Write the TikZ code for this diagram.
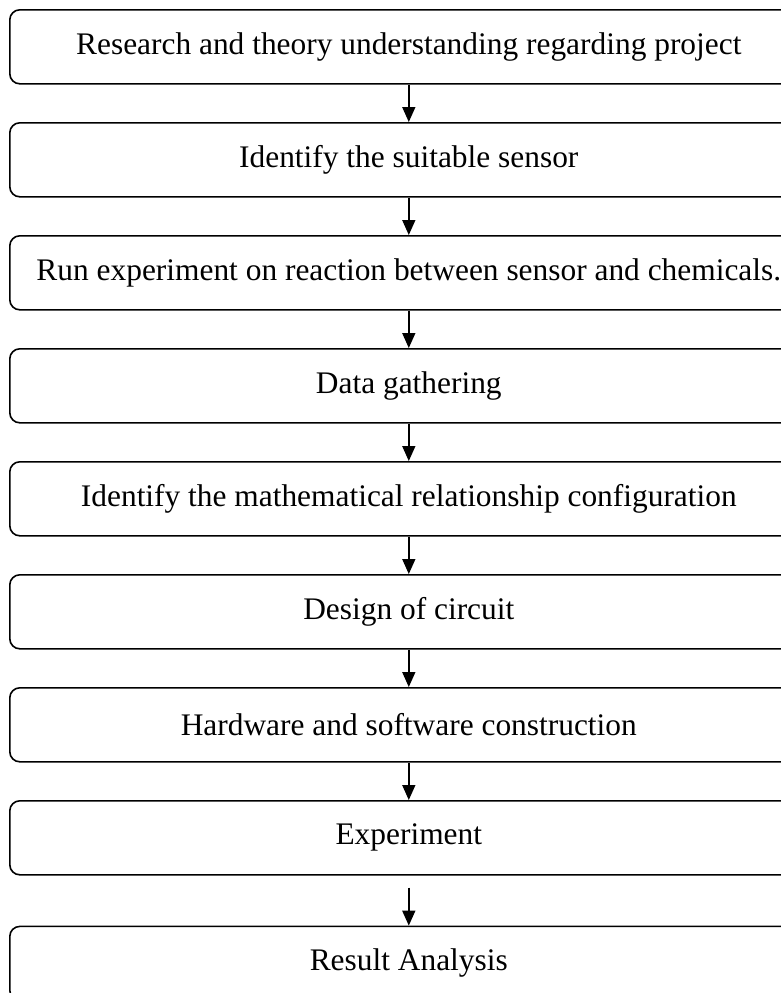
\documentclass[tikz,border=0pt]{standalone}
\usepackage{fontspec}
\setmainfont{Liberation Serif}
\usetikzlibrary{arrows.meta,positioning}
\tikzset{
  every node/.style={
    font=\fontsize{15.7}{18}\selectfont
  },
  stage/.style={
    shape=rectangle,
    rounded corners=5pt,
    draw=black,
    line width=0.8pt,
    minimum width=399pt,
    minimum height=37pt,
    inner sep=0pt,
    text centered
  },
  flow/.style={
    line width=0.8pt,
    -{Triangle[length=7.5pt,width=6.5pt]}
  }
}

\begin{document}
\begin{tikzpicture}[node distance=18.7pt]
    \useasboundingbox (0,0) rectangle (390.5pt,-496.5pt);
    \node [stage, anchor=north west] (research) at (4.5pt,-4.5pt) {Research and theory understanding regarding project};
    \node [stage, below=of research] (sensor) {Identify the suitable sensor};
    \node [stage, below=of sensor] (run) {Run experiment on reaction between sensor and chemicals.};
    \node [stage, below=of run] (data) {Data gathering};
    \node [stage, below=of data] (maths) {Identify the mathematical relationship configuration};
    \node [stage, below=of maths] (circuit) {Design of circuit};
    \node [stage, below=of circuit] (build) {Hardware and software construction};
    \node [stage, below=of build] (exper) {Experiment};
    \node [stage, below=25pt of exper] (result) {Result Analysis};

    \draw [flow] (research) -- (sensor);
    \draw [flow] (sensor) -- (run);
    \draw [flow] (run) -- (data);
    \draw [flow] (data) -- (maths);
    \draw [flow] (maths) -- (circuit);
    \draw [flow] (circuit) -- (build);
    \draw [flow] (build) -- (exper);
    \draw [flow] ([yshift=-6pt]exper.south) -- (result);
  \end{tikzpicture}
\end{document}
